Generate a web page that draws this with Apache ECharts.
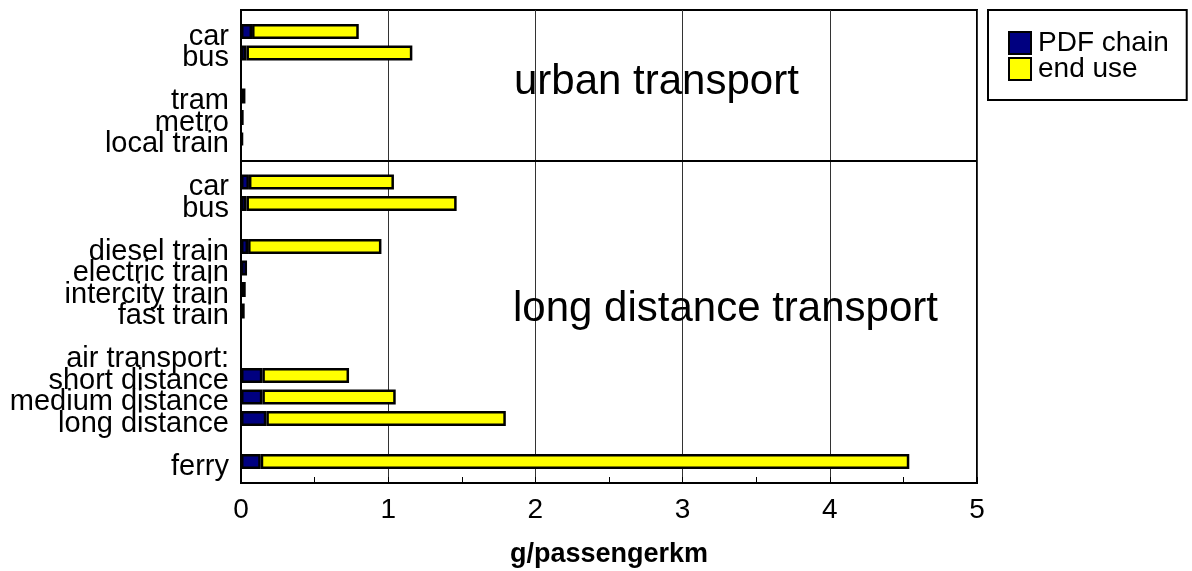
<!DOCTYPE html>
<html>
<head>
<meta charset="utf-8">
<script src="https://cdn.jsdelivr.net/npm/echarts@6/dist/echarts.min.js"></script>
<style>
html,body{margin:0;padding:0;background:#fff;}
#chart{width:1192px;height:571px;}
</style>
</head>
<body>
<div id="chart"></div>
<script>
// Categories (blank entries are spacer rows)
var categories = ['', 'car', 'bus', '', 'tram', 'metro', 'local train', '', 'car', 'bus', '',
  'diesel train', 'electric train', 'intercity train', 'fast train', '', 'air transport:',
  'short distance', 'medium distance', 'long distance', '', 'ferry', ''];
var pdfChain = [null, 0.075, 0.037, null, 0.03, 0.018, 0.014, null, 0.054, 0.037, null,
  0.048, 0.041, 0.032, 0.025, null, null, 0.145, 0.145, 0.172, null, 0.134, null];
var endUse = [null, 0.725, 1.127, null, null, null, null, null, 0.985, 1.428, null,
  0.906, null, null, null, null, null, 0.589, 0.906, 1.627, null, 4.406, null];
var xTicks = [0, 1, 2, 3, 4, 5];
var separatorIndex = 7;
var seriesNames = ['PDF chain', 'end use'];
var annotations = ['urban transport', 'long distance transport'];

var FONT = "'Liberation Sans', Arial, sans-serif";
var chart = echarts.init(document.getElementById('chart'));
chart.setOption({
  backgroundColor: '#ffffff',
  animation: false,
  textStyle: { fontFamily: FONT, color: '#000' },
  grid: {
    left: 241, right: 215, top: 10, bottom: 88,
    outerBoundsMode: 'none',
    containLabel: false,
    show: true, borderColor: '#000', borderWidth: 2, backgroundColor: '#fff'
  },
  legend: {
    orient: 'vertical',
    left: 988, top: 10,
    padding: [19, 18, 17, 20],
    icon: 'rect',
    itemWidth: 22, itemHeight: 22, itemGap: -2,
    borderColor: '#000', borderWidth: 2,
    textStyle: { fontFamily: FONT, fontSize: 28, lineHeight: 22, color: '#000', padding: [0, 0, 0, 2] },
    data: seriesNames
  },
  xAxis: {
    type: 'value',
    min: xTicks[0], max: xTicks[xTicks.length - 1], interval: 1,
    name: 'g/passengerkm',
    nameLocation: 'middle',
    nameGap: 58,
    nameTextStyle: { fontFamily: FONT, fontSize: 27, fontWeight: 'bold', color: '#000' },
    axisLine: { show: true, lineStyle: { color: '#000', width: 2 } },
    axisTick: { show: true, inside: true, length: 6, lineStyle: { color: '#000', width: 1 } },
    minorTick: { show: true, splitNumber: 2, length: 6, lineStyle: { color: '#000', width: 1 } },
    axisLabel: { fontFamily: FONT, fontSize: 28, color: '#000', margin: 13 },
    splitLine: { show: true, lineStyle: { color: '#333', width: 1 } }
  },
  yAxis: {
    type: 'category',
    inverse: true,
    boundaryGap: false,
    data: categories,
    axisLine: { show: true, lineStyle: { color: '#000', width: 2 } },
    axisTick: { show: false },
    splitLine: { show: false },
    axisLabel: {
      interval: 0, fontFamily: FONT, fontSize: 29, color: '#000', margin: 12,
      verticalAlign: 'top', lineHeight: 10
    }
  },
  series: [
    {
      name: seriesNames[0], type: 'bar', stack: 'total',
      data: pdfChain, barWidth: 15,
      itemStyle: { color: '#000080', borderColor: '#000', borderWidth: 2.5 },
      markLine: {
        silent: true, symbol: 'none', label: { show: false },
        lineStyle: { color: '#000', width: 2, type: 'solid' },
        data: [{ yAxis: separatorIndex }]
      }
    },
    {
      name: seriesNames[1], type: 'bar', stack: 'total',
      data: endUse, barWidth: 15,
      itemStyle: { color: '#ffff00', borderColor: '#000', borderWidth: 2.5 }
    }
  ],
  graphic: [
    { type: 'text', left: 514, top: 61, z: 100,
      style: { text: annotations[0], font: '42px ' + FONT, fill: '#000' } },
    { type: 'text', left: 513, top: 288, z: 100,
      style: { text: annotations[1], font: '42px ' + FONT, fill: '#000' } }
  ]
});
</script>
</body>
</html>
